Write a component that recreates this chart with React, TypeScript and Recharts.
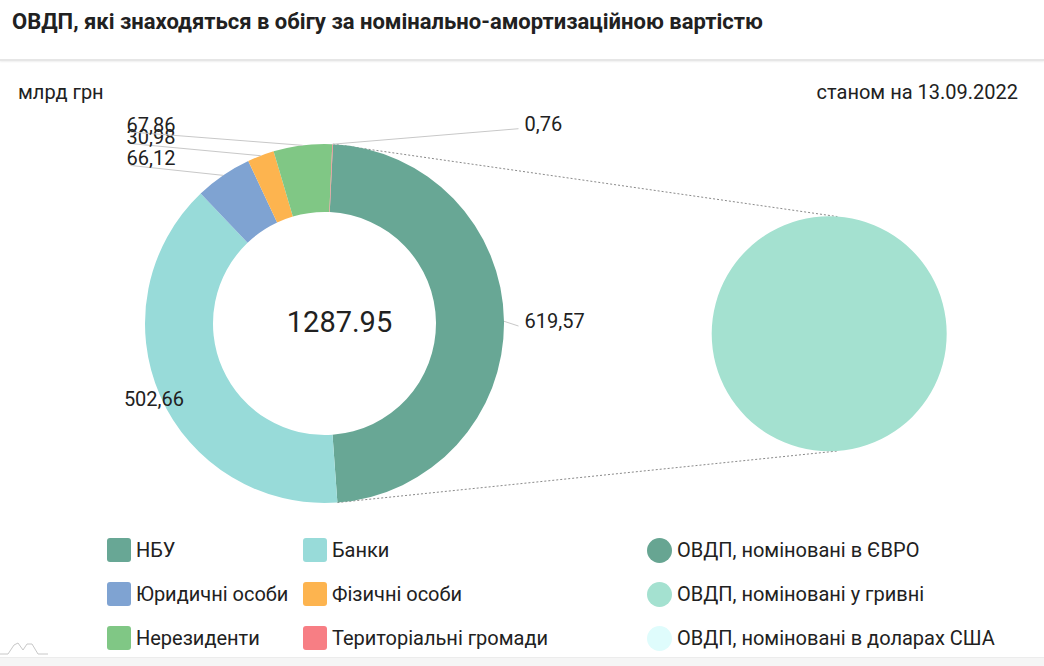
import { PieChart, Pie, Cell, Customized } from "recharts";

const categories = ["НБУ", "Банки", "Юридичні особи", "Фізичні особи", "Нерезиденти", "Територіальні громади"];
const values = [619.57, 502.66, 66.12, 30.98, 67.86, 0.76];
const colors = ["#68a795", "#98dbd9", "#7fa3d2", "#fdb44f", "#80c785", "#f77e84"];

const currencyNames = ["ОВДП, номіновані в ЄВРО", "ОВДП, номіновані у гривні", "ОВДП, номіновані в доларах США"];
const currencyValues = [0, 1287.95, 0];
const currencyColors = ["#67a592", "#a4e1d0", "#dffcfc"];

const holders = categories.map((name, i) => ({ name, value: values[i] }));
const currencies = currencyNames.map((name, i) => ({ name, value: currencyValues[i] }));
const total = values.reduce((a, b) => a + b, 0);

const CX = 324.5;
const CY = 323.5;
const R_IN = 111.5;
const R_OUT = 179.5;
const START = 87.3;
const CX2 = 829.2;
const CY2 = 333.8;
const R2 = 117.5;

const RAD = Math.PI / 180;
const fmt = (v: number) => v.toFixed(2).replace(".", ",");

function renderLabel(props: any) {
  const { cx, cy, midAngle, outerRadius, value } = props;
  const c = Math.cos(midAngle * RAD);
  const s = Math.sin(midAngle * RAD);
  const ex = cx + c * outerRadius;
  const ey = cy - s * outerRadius;
  const style = { fontFamily: "Roboto", fontSize: 20, fill: "#212121" };
  if (c < 0 && s < 0) {
    // lower-left: label sits on the ring edge
    const r = outerRadius + 7;
    return (
      <text x={cx + c * r} y={cy - s * r} textAnchor="middle" dominantBaseline="central" style={style}>
        {fmt(value)}
      </text>
    );
  }
  const y = cy - s * 200;
  const right = c >= 0;
  const tx = right ? cx + 200 : cx - 198;
  const lx = right ? cx + 194 : cx - 194;
  const ly = right ? y + 5 : y + 7;
  return (
    <g>
      <line x1={ex} y1={ey} x2={lx} y2={ly} stroke="#c8c8c8" strokeWidth={1} />
      <text x={tx} y={y} textAnchor="start" dominantBaseline="central" style={style}>
        {fmt(value)}
      </text>
    </g>
  );
}

function Connectors() {
  const a = START * RAD;
  const b = (START - 360 * (values[0] / total)) * RAD;
  const k = 86 * RAD;
  return (
    <g stroke="#8a8a8a" strokeWidth={1} strokeDasharray="2 2">
      <line x1={CX + Math.cos(a) * R_OUT} y1={CY - Math.sin(a) * R_OUT} x2={CX2 + Math.cos(k) * R2} y2={CY2 - Math.sin(k) * R2} />
      <line x1={CX + Math.cos(b) * R_OUT} y1={CY - Math.sin(b) * R_OUT} x2={CX2 + Math.cos(k) * R2} y2={CY2 + Math.sin(k) * R2} />
    </g>
  );
}

function LegendRow({ color, label, round }: { color: string; label: string; round?: boolean }) {
  return (
    <div style={{ display: "flex", alignItems: "center", height: 44, whiteSpace: "nowrap" }}>
      <span
        style={{
          display: "inline-block",
          flex: "none",
          width: round ? 25 : 24,
          height: round ? 25 : 24,
          borderRadius: round ? "50%" : 3,
          background: color,
          marginRight: 5,
        }}
      />
      <span style={{ fontSize: 20, color: "#212121" }}>{label}</span>
    </div>
  );
}

export default function App() {
  return (
    <div
      style={{
        position: "absolute",
        top: 0,
        left: 0,
        width: 1044,
        height: 666,
        background: "#fff",
        fontFamily: "Roboto",
        overflow: "hidden",
      }}
    >
      <div style={{ position: "absolute", left: 12, top: 7, fontSize: 22, fontWeight: 700, color: "#212121", lineHeight: "30px", whiteSpace: "nowrap" }}>
        ОВДП, які знаходяться в обігу за номінально-амортизаційною вартістю
      </div>
      <div style={{ position: "absolute", left: 0, top: 59, width: 1044, height: 2, background: "#e6e6e6", boxShadow: "0 1px 2px #eeeeee" }} />
      <div style={{ position: "absolute", left: 18, top: 79, fontSize: 20, color: "#212121", lineHeight: "26px" }}>млрд грн</div>
      <div style={{ position: "absolute", right: 26, top: 79, fontSize: 20, color: "#212121", lineHeight: "26px" }}>
        станом на 13.09.2022
      </div>

      <div style={{ position: "absolute", left: 0, top: 0 }}>
        <PieChart width={1044} height={530} margin={{ top: 0, right: 0, bottom: 0, left: 0 }}>
          <Customized component={<Connectors />} />
          <Pie
            data={holders}
            dataKey="value"
            nameKey="name"
            cx={CX}
            cy={CY}
            innerRadius={R_IN}
            outerRadius={R_OUT}
            startAngle={START}
            endAngle={START - 360}
            stroke="none"
            label={renderLabel}
            labelLine={false}
            isAnimationActive={false}
          >
            {holders.map((d, i) => (
              <Cell key={d.name} fill={colors[i]} />
            ))}
          </Pie>
          <Pie
            data={currencies}
            dataKey="value"
            nameKey="name"
            cx={CX2}
            cy={CY2}
            innerRadius={0}
            outerRadius={R2}
            startAngle={90}
            endAngle={-270}
            stroke="none"
            isAnimationActive={false}
          >
            {currencies.map((d, i) => (
              <Cell key={d.name} fill={currencyColors[i]} />
            ))}
          </Pie>
          <text x={CX + 15} y={CY - 2} textAnchor="middle" dominantBaseline="central" style={{ fontFamily: "Roboto", fontSize: 29, fill: "#212121" }}>
            {total.toFixed(2)}
          </text>
        </PieChart>
      </div>

      <div style={{ position: "absolute", left: 107, top: 528, display: "grid", gridTemplateColumns: "196px 300px" }}>
        {categories.map((c, i) => (
          <LegendRow key={c} color={colors[i]} label={c} />
        ))}
      </div>
      <div style={{ position: "absolute", left: 647, top: 528 }}>
        {currencyNames.map((c, i) => (
          <LegendRow key={c} color={currencyColors[i]} label={c} round />
        ))}
      </div>

      <svg style={{ position: "absolute", left: 0, top: 640 }} width={50} height={18}>
        <polyline points="0,14 8,14 14,5 18,3 23,10 27,4 32,4 38,14 48,14" fill="none" stroke="#c8c8c8" strokeWidth={1} />
      </svg>
      <div style={{ position: "absolute", left: 0, top: 657, width: 1044, height: 9, background: "#f5f5f5", borderTop: "1px solid #ececec" }} />
    </div>
  );
}
